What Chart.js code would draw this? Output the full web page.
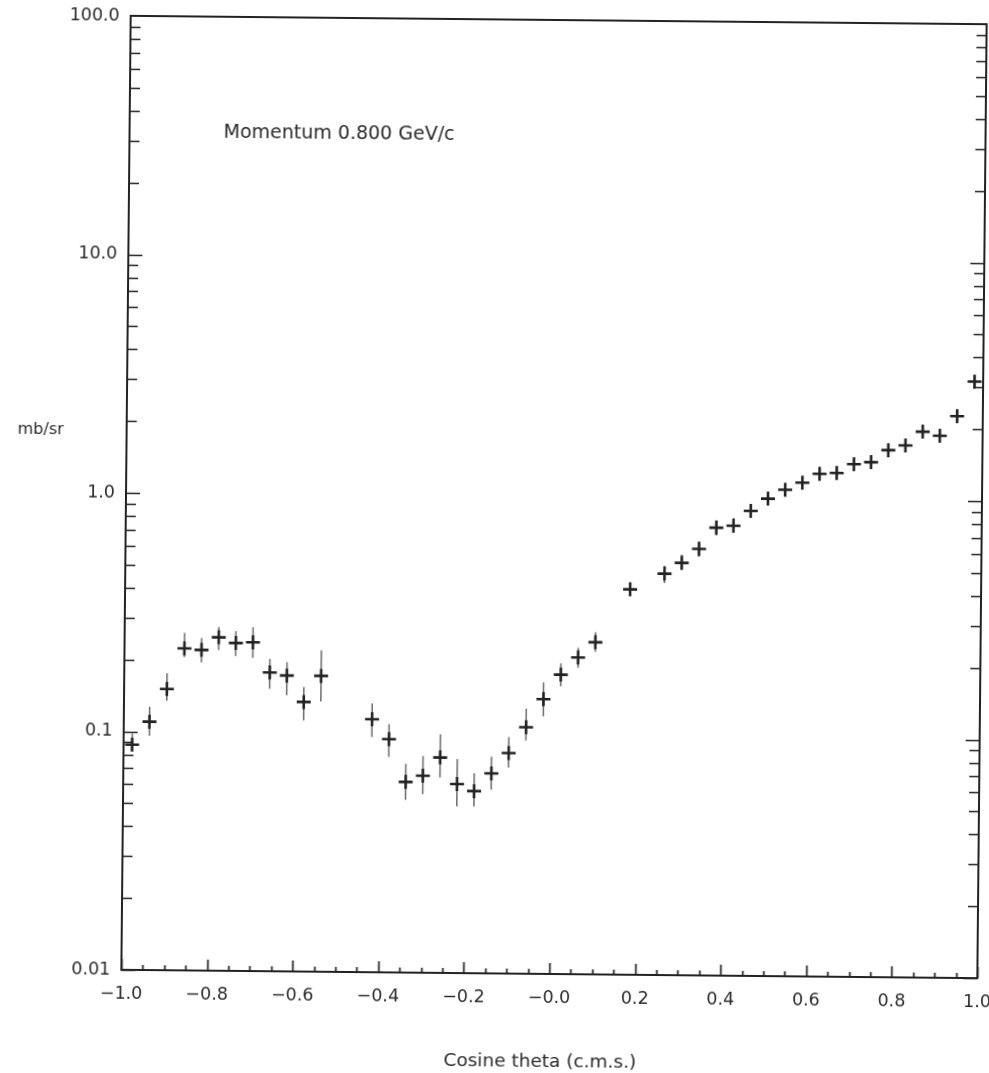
<!DOCTYPE html>
<html>
<head>
<meta charset="utf-8">
<title>Momentum 0.800 GeV/c</title>
<script src="https://cdn.jsdelivr.net/npm/chart.js@4.4.1/dist/chart.umd.min.js"></script>
<style>
  html, body { margin: 0; padding: 0; background: #fff; overflow: hidden; }
  /* the sheet sits a little skewed, as on the original plot */
  #wrap {
    position: relative;
    width: 1009px;
    height: 1073px;
    transform-origin: 554px 497px;
    transform: rotate(0.56deg);
  }
</style>
</head>
<body>
<div id="wrap"><canvas id="dsigma"></canvas></div>
<script>
// ==================== DATA ====================
// Differential cross section vs cos(theta) in the c.m.s., bins of 0.04

const cosTheta = [
  -0.98, -0.94, -0.90, -0.86, -0.82, -0.78, -0.74, -0.70, -0.66, -0.62, -0.58, -0.54,
  -0.42, -0.38, -0.34, -0.30, -0.26, -0.22, -0.18, -0.14, -0.10, -0.06, -0.02, 0.02, 0.06, 0.10,
  0.18,
  0.26, 0.30, 0.34, 0.38, 0.42, 0.46, 0.50, 0.54, 0.58, 0.62, 0.66, 0.70, 0.74, 0.78, 0.82,
  0.86, 0.90, 0.94, 0.98
];

// mb/sr
const dsigma = [
  0.088, 0.110, 0.151, 0.224, 0.221, 0.250, 0.237, 0.239, 0.179, 0.174, 0.135, 0.174,
  0.115, 0.095, 0.063, 0.067, 0.080, 0.062, 0.058, 0.069, 0.084, 0.108, 0.142, 0.180, 0.213, 0.247,
  0.413,
  0.482, 0.536, 0.614, 0.755, 0.771, 0.891, 1.004, 1.096, 1.175, 1.283, 1.295, 1.413, 1.442, 1.622,
  1.70, 1.945, 1.873, 2.265, 3.17
];

// lower / upper end of each error bar
const errLow = [
  0.083, 0.096, 0.135, 0.206, 0.196, 0.221, 0.209, 0.206, 0.153, 0.144, 0.113, 0.136,
  0.097, 0.080, 0.053, 0.056, 0.066, 0.050, 0.050, 0.059, 0.073, 0.095, 0.120, 0.161, 0.193, 0.225,
  0.39,
  0.44, 0.50, 0.57, 0.70, 0.72, 0.84, 0.95, 1.04, 1.11, 1.21, 1.22, 1.34, 1.35, 1.54,
  1.61, 1.85, 1.76, 2.14, 3.02
];
const errHigh = [
  0.098, 0.127, 0.176, 0.260, 0.248, 0.276, 0.266, 0.276, 0.204, 0.198, 0.156, 0.223,
  0.134, 0.110, 0.075, 0.081, 0.100, 0.079, 0.069, 0.081, 0.098, 0.129, 0.167, 0.201, 0.234, 0.272,
  0.44,
  0.52, 0.58, 0.66, 0.81, 0.83, 0.95, 1.06, 1.16, 1.24, 1.36, 1.38, 1.49, 1.54, 1.71,
  1.80, 2.05, 2.00, 2.40, 3.32
];

const xTickValues = [-1.0, -0.8, -0.6, -0.4, -0.2, 0.0, 0.2, 0.4, 0.6, 0.8, 1.0];
const xTickLabels = ['\u22121.0', '\u22120.8', '\u22120.6', '\u22120.4', '\u22120.2', '\u22120.0',
                     '0.2', '0.4', '0.6', '0.8', '1.0'];
const yTickValues = [0.01, 0.1, 1, 10, 100];
const yTickLabels = ['0.01', '0.1', '1.0', '10.0', '100.0'];

// ==================== STYLE ====================
const FONT = '"DejaVu Sans", sans-serif';
const INK  = '#222222';
const TEXT = '#2a2a2a';

// ==================== PLUGINS ====================

// vertical error bars, drawn under the crosses
const errorBars = {
  id: 'errorBars',
  beforeDatasetsDraw(chart) {
    const { ctx, scales: { x, y } } = chart;
    ctx.save();
    ctx.strokeStyle = '#6a6a6a';
    ctx.lineWidth = 1.5;
    ctx.beginPath();
    cosTheta.forEach((c, i) => {
      const px = x.getPixelForValue(c);
      ctx.moveTo(px, y.getPixelForValue(errLow[i]));
      ctx.lineTo(px, y.getPixelForValue(errHigh[i]));
    });
    ctx.stroke();
    ctx.restore();
  }
};

// frame, inward tick marks and free text
const frameTicks = {
  id: 'frameTicks',
  afterDraw(chart) {
    const { ctx, chartArea: a, scales: { x, y } } = chart;
    ctx.save();
    ctx.strokeStyle = INK;
    ctx.lineWidth = 1.7;
    ctx.beginPath();

    // log axis: 1..9 per decade, left and right side
    for (let d = 0; d < yTickValues.length - 1; d++) {
      for (let m = 1; m <= 9; m++) {
        const py = Math.round(y.getPixelForValue(yTickValues[d] * m)) + 0.5;
        const len = m === 1 ? 14 : 10;
        ctx.moveTo(a.left, py);  ctx.lineTo(a.left + len, py);
        ctx.moveTo(a.right, py); ctx.lineTo(a.right - len, py);
      }
    }

    // cos theta axis: small every 0.05, long every 0.2
    for (let k = 0; k <= 40; k++) {
      const px = Math.round(x.getPixelForValue(-1 + k * 0.05)) + 0.5;
      const len = k % 4 === 0 ? 11 : 5;
      ctx.moveTo(px, a.bottom); ctx.lineTo(px, a.bottom - len);
    }
    ctx.stroke();

    ctx.lineWidth = 2;
    ctx.strokeRect(a.left, a.top, a.right - a.left, a.bottom - a.top);

    ctx.fillStyle = TEXT;
    ctx.textBaseline = 'alphabetic';
    ctx.textAlign = 'left';
    ctx.font = '16px ' + FONT;
    ctx.fillText('mb/sr', 17, 439);
    ctx.font = '19px ' + FONT;
    ctx.fillText('Momentum 0.800 GeV/c', 220, 141);
    ctx.font = '18.5px ' + FONT;
    ctx.fillText('Cosine theta (c.m.s.)', 449, 1067);
    ctx.restore();
  }
};

// ==================== CHART ====================

const points = cosTheta.map((c, i) => ({ x: c, y: dsigma[i] }));

// keep the plot box fixed: no extra room for the end labels
const noEdgePadding = (s) => {
  s.paddingLeft = 0;
  s.paddingRight = 0;
  s.paddingTop = 0;
  s.paddingBottom = 0;
};

new Chart(document.getElementById('dsigma'), {
  type: 'scatter',
  data: {
    datasets: [{
      label: 'mb/sr',
      data: points,
      pointStyle: 'cross',
      pointRadius: 7,
      pointHoverRadius: 7,
      borderWidth: 2.6,
      borderColor: INK,
      backgroundColor: INK
    }]
  },
  options: {
    responsive: true,
    maintainAspectRatio: false,
    devicePixelRatio: 1,
    animation: false,
    events: [],
    layout: { padding: { top: 20, right: 27, bottom: 0, left: 0 } },
    plugins: {
      legend: { display: false },
      tooltip: { enabled: false }
    },
    scales: {
      x: {
        type: 'linear',
        min: -1,
        max: 1,
        grid: { display: false, drawTicks: false },
        border: { display: false },
        afterBuildTicks: (s) => { s.ticks = xTickValues.map(v => ({ value: v })); },
        afterFit: (s) => { s.height = 99; noEdgePadding(s); },
        ticks: {
          padding: 14,
          maxRotation: 0,
          autoSkip: false,
          color: TEXT,
          font: { family: FONT, size: 17.5 },
          callback: (v, i) => xTickLabels[i]
        }
      },
      y: {
        type: 'logarithmic',
        min: 0.01,
        max: 100,
        grid: { display: false, drawTicks: false },
        border: { display: false },
        afterBuildTicks: (s) => { s.ticks = yTickValues.map(v => ({ value: v })); },
        afterFit: (s) => { s.width = 126; noEdgePadding(s); },
        ticks: {
          padding: 11,
          autoSkip: false,
          color: TEXT,
          font: { family: FONT, size: 17.5 },
          callback: (v, i) => yTickLabels[i]
        }
      }
    }
  },
  plugins: [errorBars, frameTicks]
});
</script>
</body>
</html>
